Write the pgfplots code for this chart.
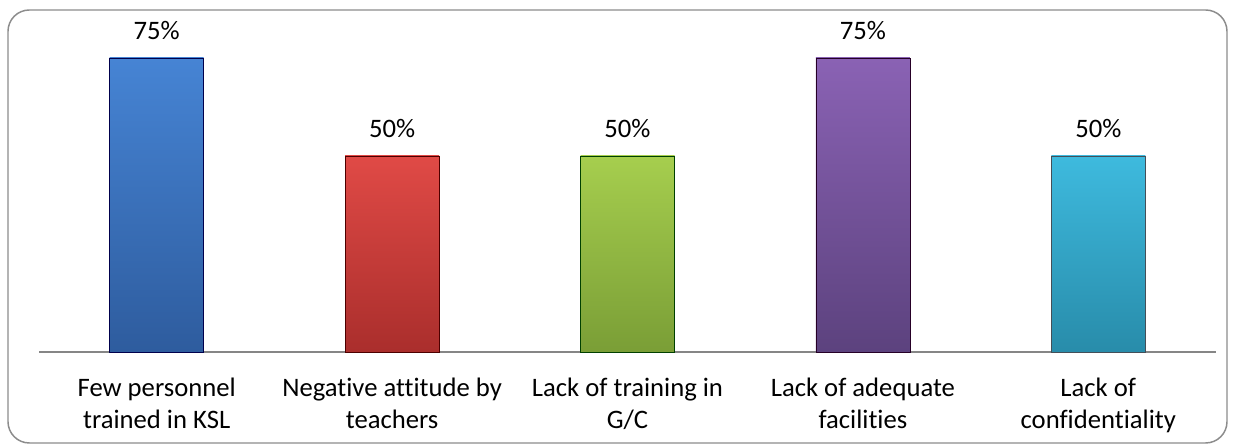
\documentclass[border=0pt]{standalone}
\usepackage{fontspec}
\setmainfont{Carlito}[Ligatures=NoCommon]
\usepackage{pgfplots}
\pgfplotsset{compat=1.18}

\definecolor{frame}{HTML}{8C8C8C}
\definecolor{axisgray}{HTML}{868686}

\begin{document}
\begin{tikzpicture}
\useasboundingbox (0,0) rectangle (924.75pt,333.75pt);
\fill[white] (0,0) rectangle (924.75pt,333.75pt);
\draw[frame, line width=1.1pt, rounded corners=16pt] (6pt,1.5pt) rectangle (920.25pt,326.25pt);
\begin{axis}[
    at={(29.25pt,69.75pt)}, anchor=south west,
    scale only axis, width=882.75pt, height=235.2pt,
    xmin=-0.5, xmax=4.5, ymin=0, ymax=80,
    axis x line=bottom, axis y line=none,
    axis line style={-, draw=axisgray, line width=0.9pt},
    xtick={0,1,2,3,4}, major tick length=0pt, ytick=\empty,
    xticklabels={{Few personnel\\trained in KSL},{Negative attitude by\\teachers},{Lack of training in\\G/C},{Lack of adequate\\facilities},{Lack of\\confidentiality}},
    xticklabel style={align=center, inner sep=0pt, yshift=-19.5pt,
        font=\fontsize{20}{23.8}\selectfont},
    clip=false,
    /pgf/number format/assume math mode=true,
    every axis plot/.append style={ybar, bar width=70.5pt, bar shift=0pt, line width=0.6pt},
    nodes near coords={\pgfmathprintnumber{\pgfplotspointmeta}\%},
    every node near coord/.append style={inner sep=0pt, yshift=13.5pt, black,
        font=\fontsize{20}{23.8}\selectfont},
]
% bars, one plot each so every bar gets its own gradient
\addplot[draw=blue!30!black, top color={rgb,255:red,70;green,132;blue,212}, bottom color={rgb,255:red,46;green,92;blue,158}]
    coordinates {(0,75)};
\addplot[draw=red!30!black, top color={rgb,255:red,224;green,74;blue,70}, bottom color={rgb,255:red,170;green,46;blue,44}]
    coordinates {(1,50)};
\addplot[draw=green!25!black, top color={rgb,255:red,166;green,206;blue,78}, bottom color={rgb,255:red,122;green,158;blue,54}]
    coordinates {(2,50)};
\addplot[draw=violet!30!black, top color={rgb,255:red,138;green,98;blue,180}, bottom color={rgb,255:red,92;green,66;blue,126}]
    coordinates {(3,75)};
\addplot[draw=cyan!25!black, top color={rgb,255:red,62;green,186;blue,222}, bottom color={rgb,255:red,40;green,140;blue,170}]
    coordinates {(4,50)};
\end{axis}
\end{tikzpicture}
\end{document}
